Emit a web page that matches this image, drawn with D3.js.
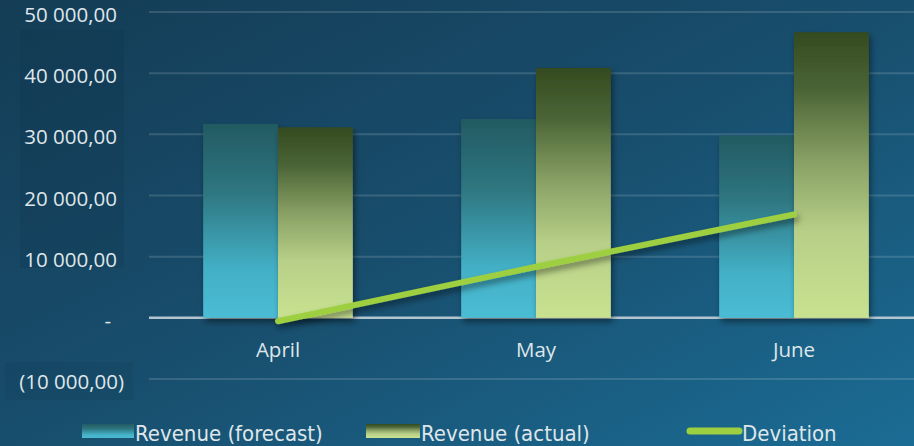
<!DOCTYPE html>
<html>
<head>
<meta charset="utf-8">
<script src="https://cdn.jsdelivr.net/npm/d3@7"></script>
<style>
  html, body { margin: 0; padding: 0; background: #174a68; }
  svg { display: block; }
</style>
</head>
<body>
<div id="chart"></div>
<script>
// chart data
const categories = ["April", "May", "June"];
const forecast = [31700, 32500, 29800];
const actual = [31150, 40850, 46700];
const deviation = [-550, 8350, 16900];
const tickValues = [-10000, 0, 10000, 20000, 30000, 40000, 50000];
const tickLabels = ["(10 000,00)", "-", "10 000,00", "20 000,00", "30 000,00", "40 000,00", "50 000,00"];
const seriesNames = ["Revenue (forecast)", "Revenue (actual)", "Deviation"];

const width = 914, height = 446;

const svg = d3.select("#chart")
    .append("svg")
    .attr("width", width)
    .attr("height", height);

const defs = svg.append("defs");

// background gradient
let bg = defs.append("linearGradient").attr("id", "bg")
    .attr("x1", 0).attr("y1", 0).attr("x2", 1).attr("y2", 1);
bg.append("stop").attr("offset", 0).attr("stop-color", "#143c55");
bg.append("stop").attr("offset", 0.5).attr("stop-color", "#184e6d");
bg.append("stop").attr("offset", 1).attr("stop-color", "#1b6c95");

// bar gradients
let gf = defs.append("linearGradient").attr("id", "gradForecast")
    .attr("x1", 0).attr("y1", 0).attr("x2", 0).attr("y2", 1);
gf.append("stop").attr("offset", 0).attr("stop-color", "#235a62");
gf.append("stop").attr("offset", 0.35).attr("stop-color", "#2e7680");
gf.append("stop").attr("offset", 0.75).attr("stop-color", "#43b0c6");
gf.append("stop").attr("offset", 1).attr("stop-color", "#4abcd4");

let ga = defs.append("linearGradient").attr("id", "gradActual")
    .attr("x1", 0).attr("y1", 0).attr("x2", 0).attr("y2", 1);
ga.append("stop").attr("offset", 0).attr("stop-color", "#344a1f");
ga.append("stop").attr("offset", 0.2).attr("stop-color", "#4b6436");
ga.append("stop").attr("offset", 0.45).attr("stop-color", "#88a064");
ga.append("stop").attr("offset", 0.7).attr("stop-color", "#b7cf87");
ga.append("stop").attr("offset", 1).attr("stop-color", "#c8e290");

// shadow
let sh = defs.append("filter").attr("id", "shadow")
    .attr("x", "-20%").attr("y", "-20%").attr("width", "140%").attr("height", "140%");
sh.append("feDropShadow").attr("dx", 2).attr("dy", 4).attr("stdDeviation", 3)
    .attr("flood-color", "#000").attr("flood-opacity", 0.45);

svg.append("rect")
    .attr("width", width)
    .attr("height", height)
    .attr("fill", "url(#bg)");

// scales
const y = d3.scaleLinear()
    .domain([-10000, 50000])
    .range([379, 12]);

const x = d3.scaleBand()
    .domain(categories)
    .range([149, 923]);

const xInner = d3.scaleBand()
    .domain(["forecast", "actual"])
    .range([x.bandwidth() * 0.21, x.bandwidth() * 0.79]);

// slightly darker patches behind the tick labels
svg.append("rect").attr("x", 20).attr("y", 30).attr("width", 104).attr("height", 238)
    .attr("fill", "#0d3349").attr("opacity", 0.22);
svg.append("rect").attr("x", 5).attr("y", 362).attr("width", 128).attr("height", 38)
    .attr("fill", "#0d3349").attr("opacity", 0.15);

// gridlines
svg.append("g")
    .selectAll("line")
    .data(tickValues)
    .enter()
    .append("line")
    .attr("x1", 149)
    .attr("x2", width)
    .attr("y1", d => y(d))
    .attr("y2", d => y(d))
    .attr("stroke", d => d === 0 ? "#b3c6cf" : "#ffffff")
    .attr("stroke-opacity", d => d === 0 ? 1 : 0.14)
    .attr("stroke-width", d => d === 0 ? 2.5 : 2);

// y tick labels
svg.append("g")
    .selectAll("text")
    .data(tickValues)
    .enter()
    .append("text")
    .attr("x", (d, i) => d < 0 ? 124 : (d === 0 ? 111 : 117))
    .attr("y", d => y(d) + 10)
    .attr("text-anchor", "end")
    .attr("font-family", "'Open Sans', sans-serif")
    .attr("font-size", 20.5)
    .attr("fill", "#dfe6ea")
    .text((d, i) => tickLabels[i]);

// bars
const barData = [];
categories.forEach((c, i) => {
    barData.push({cat: c, key: "forecast", value: forecast[i]});
    barData.push({cat: c, key: "actual", value: actual[i]});
});

svg.append("g")
    .selectAll("rect")
    .data(barData)
    .enter()
    .append("rect")
    .attr("x", d => x(d.cat) + xInner(d.key))
    .attr("y", d => y(d.value))
    .attr("width", xInner.bandwidth())
    .attr("height", d => y(0) - y(d.value))
    .attr("fill", d => d.key === "forecast" ? "url(#gradForecast)" : "url(#gradActual)")
    .attr("filter", "url(#shadow)");

// deviation line
const line = d3.line()
    .x((d, i) => x(categories[i]) + x.bandwidth() / 2)
    .y(d => y(d));

svg.append("path")
    .datum(deviation)
    .attr("d", line)
    .attr("fill", "none")
    .attr("stroke", "#9dcf41")
    .attr("stroke-width", 6)
    .attr("stroke-linecap", "round")
    .attr("filter", "url(#shadow)");

// x labels
svg.append("g")
    .selectAll("text")
    .data(categories)
    .enter()
    .append("text")
    .attr("x", d => x(d) + x.bandwidth() / 2)
    .attr("y", 357)
    .attr("text-anchor", "middle")
    .attr("font-family", "'Open Sans', sans-serif")
    .attr("font-size", 20.5)
    .attr("fill", "#dfe6ea")
    .text(d => d);

// legend
const legend = svg.append("g");

legend.append("rect")
    .attr("x", 82).attr("y", 424).attr("width", 52).attr("height", 14)
    .attr("fill", "url(#gradForecast)");
legend.append("rect")
    .attr("x", 366).attr("y", 424).attr("width", 54).attr("height", 14)
    .attr("fill", "url(#gradActual)");
legend.append("line")
    .attr("x1", 690).attr("x2", 739).attr("y1", 431).attr("y2", 431)
    .attr("stroke", "#9dcf41").attr("stroke-width", 7).attr("stroke-linecap", "round");

const legendX = [135, 421, 742];
legend.selectAll("text")
    .data(seriesNames)
    .enter()
    .append("text")
    .attr("x", (d, i) => legendX[i])
    .attr("y", 441)
    .attr("font-family", "'DejaVu Sans Condensed', 'DejaVu Sans', sans-serif")
    .attr("font-size", 22)
    .attr("fill", "#dfe6ea")
    .text(d => d);
</script>
</body>
</html>
